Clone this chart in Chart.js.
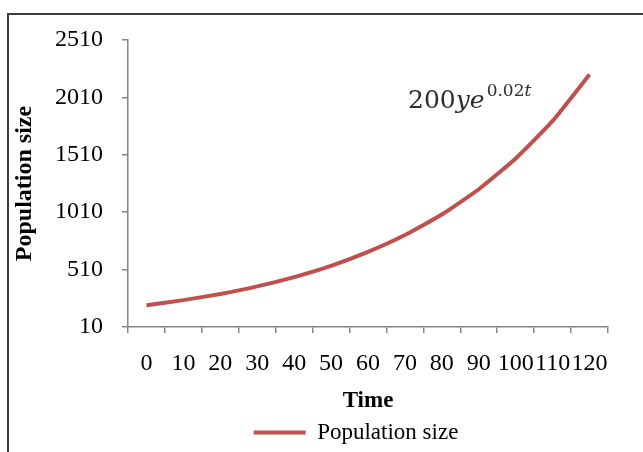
<!DOCTYPE html>
<html lang="en">
<head>
    <meta charset="UTF-8">
    <title>Population size</title>
    <script src="https://cdn.jsdelivr.net/npm/chart.js"></script>
    <style>
        body { margin: 0; background: #fff; overflow: hidden; }
        #wrap { position: relative; width: 643px; height: 452px; overflow: hidden; }
        #frame { position: absolute; left: 7px; top: 13px; width: 700px; height: 500px; border: 2px solid #3c3c3c; }
        canvas { position: absolute; left: 0; top: 0; }
    </style>
</head>
<body>
    <div id="wrap">
        <div id="frame"></div>
        <canvas id="myChart" width="643" height="454"></canvas>
    </div>

    <script>
        // values
        const times = ['0', '10', '20', '30', '40', '50', '60', '70', '80', '90', '100', '110', '120'];
        const population = [200, 244, 298, 364, 445, 543, 664, 811, 990, 1210, 1478, 1805, 2210];
        const yTicks = [10, 510, 1010, 1510, 2010, 2510];

        const serif = '"Liberation Serif", "Times New Roman", serif';
        const axisGray = '#868686';

        // the formula written over the curve
        const formulaLabel = {
            id: 'formulaLabel',
            afterLayout(chart) {
                // legend sits a bit left of the plot centre in the original
                if (chart.legend) chart.legend.left -= 24;
            },
            afterDraw(chart) {
                const ctx = chart.ctx;
                const area = chart.chartArea;
                let x = area.left + 280;
                const y = area.top + 68;
                ctx.save();
                ctx.fillStyle = '#2e2e2e';
                ctx.textBaseline = 'alphabetic';
                ctx.font = '25px "DejaVu Serif", serif';
                ctx.fillText('200', x, y);
                x += ctx.measureText('200').width;
                ctx.font = 'italic 25px "DejaVu Serif", serif';
                ctx.fillText('ye', x, y);
                x += ctx.measureText('ye').width + 2;
                ctx.font = '17px "DejaVu Serif", serif';
                ctx.fillText('0.02', x, y - 12);
                x += ctx.measureText('0.02').width;
                ctx.font = 'italic 17px "DejaVu Serif", serif';
                ctx.fillText('t', x, y - 12);
                ctx.restore();
            }
        };

        const ctx = document.getElementById('myChart').getContext('2d');
        new Chart(ctx, {
            type: 'line',
            data: {
                labels: times,
                datasets: [{
                    label: 'Population size',
                    data: population,
                    borderColor: '#C0504D',
                    backgroundColor: '#C0504D',
                    borderWidth: 4,
                    pointRadius: 0,
                    tension: 0.15,
                    fill: false
                }]
            },
            options: {
                responsive: false,
                animation: false,
                layout: { padding: { left: 0, right: 35, top: 40, bottom: 0 } },
                scales: {
                    x: {
                        type: 'category',
                        offset: true,
                        grid: { offset: true, drawOnChartArea: false, tickLength: 6, color: axisGray, lineWidth: 1.5 },
                        border: { color: axisGray, width: 1.5 },
                        ticks: {
                            autoSkip: false, maxRotation: 0, minRotation: 0, padding: 16,
                            color: '#000', font: { family: serif, size: 24 }
                        },
                        title: {
                            display: true, text: 'Time', color: '#000',
                            font: { family: serif, size: 23, weight: 'bold' },
                            padding: { top: 0, bottom: 2 }
                        },
                        afterFit: (scale) => { scale.height = 90; }
                    },
                    y: {
                        min: 10,
                        max: 2510,
                        grid: { drawOnChartArea: false, tickLength: 6, color: axisGray, lineWidth: 1.5 },
                        border: { color: axisGray, width: 1.5 },
                        ticks: {
                            padding: 19, color: '#000', font: { family: serif, size: 24 },
                            callback: (v) => String(v)
                        },
                        afterBuildTicks: (scale) => { scale.ticks = yTicks.map(v => ({ value: v })); },
                        title: {
                            display: true, text: 'Population size', color: '#000',
                            font: { family: serif, size: 24, weight: 'bold' },
                            padding: { top: 10, bottom: 0 }
                        },
                        afterFit: (scale) => { scale.width = 128; }
                    }
                },
                plugins: {
                    legend: {
                        position: 'bottom',
                        fullSize: false,
                        labels: {
                            usePointStyle: true,
                            pointStyle: 'line',
                            pointStyleWidth: 52,
                            padding: 4,
                            color: '#000',
                            font: { family: serif, size: 23 }
                        }
                    },
                    tooltip: { enabled: false }
                }
            },
            plugins: [formulaLabel]
        });
    </script>
</body>
</html>
